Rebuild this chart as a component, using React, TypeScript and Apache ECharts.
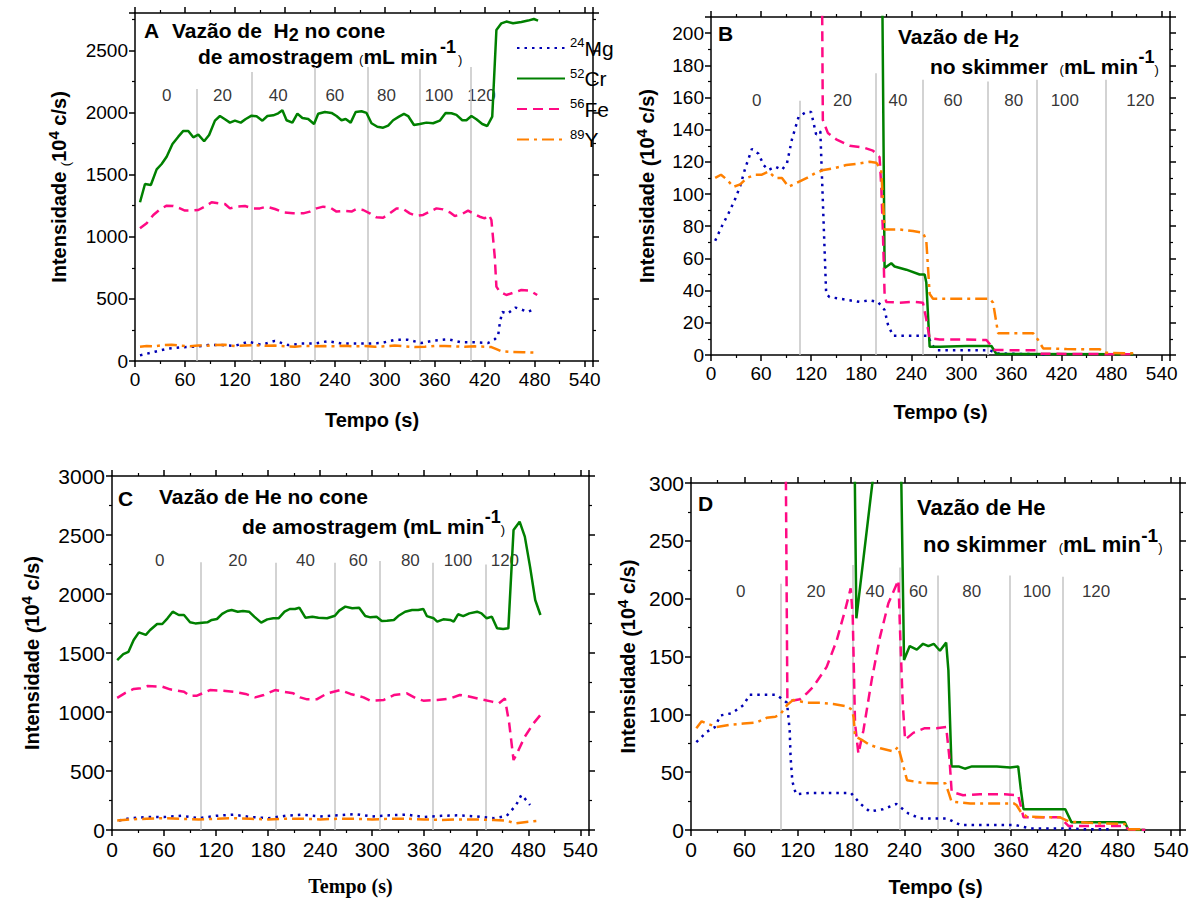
import React, { useEffect, useRef } from 'react';
import * as echarts from 'echarts';

const FONT = '"Liberation Sans", Arial, sans-serif';
const SERIF = '"Liberation Serif", "Times New Roman", serif';

// ---------- shared ----------
const isotopes = ['Mg', 'Cr', 'Fe', 'Y'];
const massNumbers = ['24', '52', '56', '89'];
const flowLabels = ['0', '20', '40', '60', '80', '100', '120'];
const xTicks = { min: 0, max: 550, interval: 60 };

// ---------- Panel A : H2 flow at sampling cone ----------
const aMg = [[6,45],[24,75],[40,100],[56,110],[72,115],[88,128],[104,128],[120,122],[136,155],[152,130],[168,162],[184,128],[200,140],[216,140],[232,160],[248,140],[264,140],[280,140],[296,145],[312,170],[328,170],[344,145],[360,165],[376,175],[392,150],[408,150],[424,145],[432,175],[436,200],[438,300],[441,395],[447,380],[457,430],[472,395],[480,420]];
const aCr = [[6,1277],[12,1424],[19,1416],[26,1542],[32,1585],[38,1644],[45,1746],[52,1805],[58,1851],[64,1851],[70,1800],[76,1821],[83,1768],[89,1818],[96,1934],[102,1971],[108,1945],[114,1918],[120,1934],[127,1918],[133,1947],[140,1974],[146,1969],[153,1934],[159,1971],[166,1977],[172,1993],[177,2017],[182,1937],[189,1918],[195,1990],[201,1955],[208,1947],[215,1907],[220,1990],[228,2004],[236,1996],[242,1971],[248,1937],[253,1947],[259,1918],[265,2004],[272,2009],[278,1996],[284,1913],[291,1885],[298,1877],[304,1894],[310,1937],[317,1966],[323,1988],[328,1971],[335,1899],[342,1907],[350,1918],[358,1913],[366,1934],[373,1996],[380,1993],[386,1980],[393,1937],[398,1937],[404,1971],[410,1945],[417,1907],[423,1891],[429,1966],[434,2663],[440,2717],[446,2731],[454,2717],[464,2728],[472,2739],[479,2752],[484,2739]];
const aFe = [[6,1068],[14,1108],[22,1175],[30,1220],[38,1250],[46,1247],[54,1228],[60,1210],[68,1210],[76,1215],[84,1242],[92,1277],[100,1269],[108,1263],[114,1228],[122,1242],[132,1247],[141,1228],[150,1228],[158,1242],[168,1223],[178,1196],[190,1188],[202,1188],[210,1202],[218,1228],[226,1242],[234,1236],[242,1202],[252,1207],[260,1202],[266,1223],[274,1215],[282,1188],[290,1156],[298,1153],[306,1188],[314,1228],[322,1223],[330,1188],[338,1167],[346,1175],[354,1202],[362,1228],[370,1220],[378,1196],[384,1167],[392,1180],[400,1210],[406,1188],[414,1161],[420,1148],[425,1175],[428,1134],[432,839],[434,598],[438,558],[446,531],[454,549],[464,571],[474,566],[483,531]];
const aY = [[6,115],[14,120],[24,118],[34,128],[44,130],[56,122],[66,118],[76,125],[86,122],[96,128],[108,130],[120,120],[132,125],[144,128],[156,122],[168,124],[180,118],[192,115],[204,122],[216,118],[228,120],[240,118],[252,122],[264,118],[276,120],[288,115],[300,118],[312,125],[324,118],[336,112],[348,115],[360,122],[372,120],[384,118],[396,115],[408,118],[420,115],[428,112],[434,95],[440,78],[452,72],[466,70],[476,68],[484,66]];
const aRuleTimes = [74, 140, 216, 279, 342, 403];
const aRuleTops = [2188, 2325, 2365, 2365, 2350, 2365];
const aLabelTimes = [38, 105, 172, 240, 302, 365, 416];
const aLabelLevel = 2135;

// ---------- Panel B : H2 flow at skimmer ----------
const bMg = [[5,71],[13,80],[21,88],[29,97],[35,105],[41,116],[49,128],[57,125],[63,118],[69,115],[77,117],[85,115],[91,119],[97,134],[105,148],[114,151],[120,151],[126,137],[131,139],[134,96],[136,67],[138,38],[142,36],[154,35],[166,34],[178,33],[190,34],[200,33],[208,28],[212,19],[218,12],[234,12],[250,12],[260,12],[264,7],[270,3],[306,3],[334,3],[342,1],[386,0.5],[400,0.3]];
const bCr = [[205,240],[208,54],[216,57],[220,55],[234,53],[250,50],[256,50],[258,45],[262,5.2],[274,5.2],[306,5.6],[336,5.6],[342,0.6],[506,0.4]];
const bFe = [[131,400],[134,146],[140,138],[150,134],[166,130],[182,129],[194,127],[202,123],[204,105],[206,76],[208,38],[210,33],[226,32.5],[242,33],[254,32.5],[258,22],[262,10.4],[274,9.7],[306,9.7],[330,9.3],[340,3.1],[370,2.9],[390,2.9],[396,0.8],[506,0.4]];
const bY = [[5,110],[12,112],[19,109],[27,104.5],[35,106],[43,110],[53,112],[61,112],[69,114],[77,110],[85,110],[93,104.5],[103,107],[115,110],[125,113],[135,115],[147,116],[162,118],[178,119],[190,120],[198,119.5],[204,115],[206,96],[208,78],[214,78],[226,78],[242,77],[254,76],[258,71],[262,38],[266,35],[282,35],[306,35],[334,35],[338,32.5],[344,13.5],[362,13.5],[386,13.5],[392,9.3],[398,4.1],[426,3.7],[466,3.5],[472,1.4],[510,1]];
const bRuleTimes = [106.6, 197.6, 254.2, 332, 390.7, 473];
const bRuleTops = [158, 175, 171, 170, 171, 171];
const bLabelTimes = [54.7, 157.6, 224, 290, 362.8, 424, 514.5];
const bLabelLevel = 158;

// ---------- Panel C : He flow at sampling cone ----------
const cMg = [[8,80],[20,100],[40,110],[60,110],[80,120],[100,100],[120,120],[140,130],[160,110],[180,100],[200,120],[220,130],[240,115],[260,125],[280,135],[300,115],[320,125],[340,130],[360,110],[380,120],[400,125],[420,115],[440,100],[455,119],[466,212],[472,297],[478,250],[482,212]];
const cCr = [[6,1440],[13,1490],[19,1510],[25,1610],[31,1675],[39,1653],[44,1695],[52,1746],[58,1746],[64,1794],[70,1850],[77,1822],[83,1822],[90,1760],[96,1751],[104,1757],[110,1760],[115,1780],[121,1788],[127,1831],[133,1856],[138,1864],[145,1850],[151,1856],[158,1850],[164,1808],[172,1757],[179,1785],[186,1794],[192,1794],[199,1850],[205,1873],[211,1873],[216,1884],[223,1799],[231,1808],[238,1799],[248,1794],[257,1816],[262,1859],[269,1893],[277,1879],[285,1884],[292,1813],[298,1802],[305,1808],[311,1771],[317,1774],[325,1780],[330,1813],[338,1850],[346,1864],[353,1864],[359,1873],[363,1813],[371,1794],[375,1766],[382,1785],[390,1780],[394,1766],[399,1828],[405,1813],[412,1836],[421,1850],[426,1836],[432,1794],[438,1808],[444,1709],[451,1703],[457,1709],[463,2542],[470,2613],[476,2486],[482,2232],[488,1949],[494,1822]];
const cFe = [[6,1120],[15,1160],[25,1195],[33,1201],[41,1220],[58,1215],[67,1192],[83,1172],[90,1136],[98,1138],[113,1186],[127,1181],[140,1172],[154,1153],[165,1124],[175,1144],[188,1186],[198,1172],[209,1158],[217,1124],[225,1107],[236,1107],[248,1158],[263,1186],[275,1153],[290,1124],[298,1096],[313,1101],[325,1144],[340,1158],[351,1115],[359,1096],[375,1101],[390,1115],[401,1144],[413,1130],[426,1107],[438,1088],[446,1073],[453,1115],[458,904],[463,593],[467,650],[476,791],[486,904],[494,975]];
const cY = [[6,80],[20,90],[40,95],[60,100],[80,95],[100,90],[120,95],[140,100],[160,95],[180,90],[200,95],[220,95],[240,90],[260,95],[280,95],[300,90],[320,95],[340,95],[360,90],[380,85],[400,90],[420,90],[440,85],[455,80],[465,55],[480,70],[494,80]];
const cRuleTimes = [102, 189, 257, 309, 370, 431];
const cRuleTops = [2270, 2265, 2265, 2280, 2265, 2250];
const cLabelTimes = [55, 145, 223, 284, 344, 399, 453];
const cLabelLevel = 2288;

// ---------- Panel D : He flow at skimmer ----------
const dMg = [[6,76],[18,85],[27,89],[33,99],[46,101],[59,108],[66,117],[81,117],[96,117],[108,110],[111,86],[112,63],[114,42],[118,31],[134,32],[149,32],[164,32],[180,32],[190,23],[201,16],[216,18],[231,22.5],[245,14],[258,10],[273,10],[288,10],[303,4.3],[318,4.3],[335,4.3],[350,4.3],[365,4.3],[381,1.4],[411,1.4],[428,1.4],[443,0.6],[475,0.6]];
const dCr = [[183,390],[186,183],[204,300],[215,370],[234,430],[239.6,147],[246,159],[254,156],[261,161],[267,159],[273,161],[280,155],[287,162],[289.5,138],[293,55],[301,55],[308,53],[316,55],[329,55],[344,55],[359,54],[368,55],[371,35],[374,18],[393,18],[421,18],[428,6.6],[456,6.6],[488,6.6],[492,0],[511,0]];
const dFe = [[106.5,330],[108.4,112],[115,112],[122.6,113],[130,118],[137.6,124],[152.6,141],[163.9,164],[173.3,190],[179.6,209],[181.9,185],[184.5,92],[188.3,66],[193.9,86],[203.3,130],[212.6,167],[222,196],[233.3,216],[235.1,173],[238.1,110],[240.8,78],[250,84],[263,88],[276,88],[287,89],[290.6,63],[293.2,33],[306,30],[325,31],[353,31],[368,30],[374,11],[393,11],[415,11],[424.5,3.5],[456,3.5],[488,3.5],[492,0.5],[511,0]];
const dY = [[6,88],[12,94],[18,92],[29,89],[44,91],[59,92],[74,93],[85,97],[95,98],[100,99.5],[108,108],[115,112.5],[130,110],[145,110],[160,109],[175,107],[181,104],[183,97],[184.5,81],[192,78],[201,73.5],[213,70.6],[228,67.8],[233,72],[237,60.6],[243,43],[258,41],[273,40.4],[286,40.4],[289.5,33],[293,24.5],[314,23],[340,23],[363,23],[366,21.6],[372,14.4],[378,11.5],[400,11],[415,11],[426,7.2],[456,5.8],[488,5.2],[492,0.6],[509,0.6]];
const dRuleTimes = [101, 181.5, 234.4, 278, 359, 417.7];
const dRuleTops = [213, 229, 227, 220, 220, 219];
const dLabelTimes = [56, 140.6, 207, 255.7, 315.8, 389, 455.6];
const dLabelLevel = 206;

// ---------- styling / layout ----------
const colors = ['#0000b4', '#008000', '#ff0a84', '#ff8000'];
const dashes: any[] = [[2.5, 5], 'solid', [10, 6], [12, 5, 3, 5]];

const panels = [
  { grid: { left: 135, top: 13, width: 458, height: 348 }, yMax: 2800, yInt: 500, series: [aMg, aCr, aFe, aY],
    rules: [aRuleTimes, aRuleTops], labels: [aLabelTimes, aLabelLevel], xGap: 49, yGap: 63, xFont: FONT, xPad: [0, 0, 0, 16], smallParen: true, tickFont: 19 },
  { grid: { left: 711, top: 17, width: 459, height: 338 }, yMax: 210, yInt: 20, series: [bMg, bCr, bFe, bY],
    rules: [bRuleTimes, bRuleTops], labels: [bLabelTimes, bLabelLevel], xGap: 47, yGap: 51, xFont: FONT, xPad: [0, 0, 0, 0], smallParen: false, tickFont: 19 },
  { grid: { left: 112, top: 476, width: 477, height: 354 }, yMax: 3000, yInt: 500, series: [cMg, cCr, cFe, cY],
    rules: [cRuleTimes, cRuleTops], labels: [cLabelTimes, cLabelLevel], xGap: 46, yGap: 67, xFont: SERIF, xPad: [0, 0, 0, 0], smallParen: false, tickFont: 21 },
  { grid: { left: 691, top: 483, width: 489, height: 347 }, yMax: 300, yInt: 50, series: [dMg, dCr, dFe, dY],
    rules: [dRuleTimes, dRuleTops], labels: [dLabelTimes, dLabelLevel], xGap: 47, yGap: 50, xFont: FONT, xPad: [0, 0, 0, 0], smallParen: false, tickFont: 21 },
];

const titleTexts = [
  { x: 144, y: 30, size: 21, text: '{b|A}' },
  { x: 172, y: 30, size: 21, text: '{b|Vazão de  H}{sub|2}{b| no cone}' },
  { x: 198, y: 56, size: 21, text: '{b|de amostragem }{p|(}{b|mL min}' },
  { x: 440, y: 47, size: 21, text: '{s2|-1}' },
  { x: 458, y: 59, size: 21, text: '{p2|)}' },
  { x: 718, y: 33, size: 21, text: '{b|B}' },
  { x: 898, y: 36, size: 21, text: '{b|Vazão de H}{sub|2}' },
  { x: 930, y: 66, size: 21, text: '{b|no skimmer  }{p|(}{b|mL min}{sup|-1}{p|)}' },
  { x: 118, y: 498, size: 21, text: '{b|C}' },
  { x: 159, y: 496, size: 21, text: '{b|Vazão de He no cone}' },
  { x: 242, y: 526, size: 21, text: '{b|de amostragem (mL min}{sup|-1}{p|)}' },
  { x: 698, y: 503, size: 21, text: '{b|D}' },
  { x: 917, y: 507, size: 22, text: '{b|Vazão de He}' },
  { x: 923, y: 544, size: 22, text: '{b|no skimmer  }{p|(}{b|mL min}{sup|-1}{p|)}' },
];

function titleRich(size: number) {
  return {
    b: { fontSize: size, fontWeight: 'bold', fontFamily: FONT, fill: '#000', lineHeight: 22 },
    sub: { fontSize: size - 3, fontWeight: 'bold', fontFamily: FONT, fill: '#000', padding: [10, 0, 0, 0] },
    sup: { fontSize: size - 3, fontWeight: 'bold', fontFamily: FONT, fill: '#000', padding: [0, 0, 18, 0] },
    p: { fontSize: 13, fontFamily: FONT, fill: '#000', padding: [7, 0, 0, 0] },
    s2: { fontSize: size - 3, fontWeight: 'bold', fontFamily: FONT, fill: '#000', lineHeight: 18 },
    p2: { fontSize: 13, fontFamily: FONT, fill: '#000', lineHeight: 14 },
  };
}

function buildOption() {
  const grids: any[] = [];
  const xAxes: any[] = [];
  const yAxes: any[] = [];
  const series: any[] = [];
  const axisLine = { show: true, onZero: false, lineStyle: { color: '#000', width: 1.5 } };
  const tick = { show: true, length: 6, lineStyle: { color: '#000', width: 1.5 } };
  const plain = (v: number) => String(v);

  panels.forEach((p, i) => {
    grids.push({ ...p.grid, show: false, containLabel: false, outerBoundsMode: 'none' });
    const minor = (n: number) => ({ show: true, splitNumber: n, length: 3, lineStyle: { color: '#000', width: 1.2 } });
    xAxes.push({
      type: 'value', gridIndex: i, position: 'bottom', ...xTicks,
      axisLine, axisTick: tick, minorTick: minor(2), splitLine: { show: false }, minorSplitLine: { show: false },
      axisLabel: { fontSize: p.tickFont, color: '#000', fontFamily: FONT, margin: 9, showMaxLabel: false, formatter: plain },
      name: 'Tempo (s)', nameLocation: 'middle', nameGap: p.xGap,
      nameTextStyle: { fontSize: 20, fontWeight: 'bold', color: '#000', fontFamily: p.xFont, padding: p.xPad },
    });
    const paren = p.smallParen ? { fontSize: 13, fontWeight: 'normal' } : { fontSize: 20, fontWeight: 'bold' };
    yAxes.push({
      type: 'value', gridIndex: i, position: 'left', min: 0, max: p.yMax, interval: p.yInt,
      axisLine, axisTick: tick, minorTick: minor(2), splitLine: { show: false }, minorSplitLine: { show: false },
      axisLabel: { fontSize: p.tickFont, color: '#000', fontFamily: FONT, margin: 7, showMaxLabel: p.yMax % p.yInt === 0, formatter: plain },
      name: '{a|Intensidade }{p|(}{a|10}{s|4}{a| c/s)}', nameLocation: 'middle', nameGap: p.yGap,
      nameTextStyle: {
        fontSize: 20, fontWeight: 'bold', color: '#000', fontFamily: FONT,
        rich: {
          a: { fontSize: 20, fontWeight: 'bold', color: '#000', fontFamily: FONT, lineHeight: 26 },
          p: { ...paren, color: '#000', fontFamily: FONT, lineHeight: 20, verticalAlign: 'bottom' },
          s: { fontSize: 15, fontWeight: 'bold', color: '#000', fontFamily: FONT, lineHeight: 14, verticalAlign: 'top' },
        },
      },
    });
  });
  // mirror axes (top / right) with ticks only
  panels.forEach((p, i) => {
    xAxes.push({
      type: 'value', gridIndex: i, position: 'top', ...xTicks,
      axisLine, axisTick: tick, minorTick: { show: true, splitNumber: 2, length: 3, lineStyle: { color: '#000', width: 1.2 } },
      splitLine: { show: false }, axisLabel: { show: false },
    });
    yAxes.push({
      type: 'value', gridIndex: i, position: 'right', min: 0, max: p.yMax, interval: p.yInt,
      axisLine, axisTick: tick, minorTick: { show: true, splitNumber: 2, length: 3, lineStyle: { color: '#000', width: 1.2 } },
      splitLine: { show: false }, axisLabel: { show: false },
    });
  });

  panels.forEach((p, i) => {
    const [ruleTimes, ruleTops] = p.rules as [number[], number[]];
    const [labelTimes, labelLevel] = p.labels as [number[], number];
    series.push({
      type: 'scatter', xAxisIndex: i, yAxisIndex: i, silent: true, z: 1,
      symbolSize: 1, itemStyle: { color: 'rgba(0,0,0,0)' },
      data: labelTimes.map((t, k) => ({ value: [t, labelLevel], name: flowLabels[k] })),
      label: { show: true, position: 'inside', formatter: '{b}', fontSize: 17, color: '#000', fontFamily: FONT },
      markLine: {
        silent: true, symbol: 'none', label: { show: false },
        lineStyle: { color: '#c4c4c4', width: 1.5, type: 'solid' },
        data: ruleTimes.map((t, k) => [{ coord: [t, ruleTops[k]] }, { coord: [t, 0] }]),
      },
    });
    p.series.forEach((d, k) => {
      series.push({
        type: 'line', name: isotopes[k], xAxisIndex: i, yAxisIndex: i, data: d,
        showSymbol: false, symbol: 'none', z: 10, clip: true,
        lineStyle: { color: colors[k], width: 2.5, type: dashes[k] },
        itemStyle: { color: colors[k] },
      });
    });
  });

  const graphic = titleTexts.map((t) => ({
    type: 'text', x: t.x, y: t.y, silent: true,
    style: { text: t.text, rich: titleRich(t.size), fill: '#000', verticalAlign: 'middle', align: 'left' },
  }));

  return {
    animation: false,
    backgroundColor: '#fff',
    textStyle: { fontFamily: FONT, color: '#000' },
    grid: grids,
    xAxis: xAxes,
    yAxis: yAxes,
    series,
    graphic,
    legend: {
      left: 511, top: 31, orient: 'vertical', itemWidth: 48, itemHeight: 14, itemGap: 8, itemTextGap: 5,
      selectedMode: false, data: isotopes,
      itemStyle: { opacity: 0 },
      formatter: (n: string) => `{s|${massNumbers[isotopes.indexOf(n)]}}{n|${n}}`,
      textStyle: {
        rich: {
          s: { fontSize: 13, color: '#000', fontFamily: FONT, verticalAlign: 'top', lineHeight: 13 },
          n: { fontSize: 21, color: '#000', fontFamily: FONT, lineHeight: 24 },
        },
      },
    },
  };
}

export default function App() {
  const ref = useRef<HTMLDivElement>(null);
  useEffect(() => {
    if (!ref.current) return;
    const chart = echarts.init(ref.current, null, { renderer: 'svg' });
    chart.setOption(buildOption() as any);
    return () => chart.dispose();
  }, []);
  return <div ref={ref} style={{ position: 'absolute', left: 0, top: 0, width: 1191, height: 900, background: '#fff' }} />;
}
